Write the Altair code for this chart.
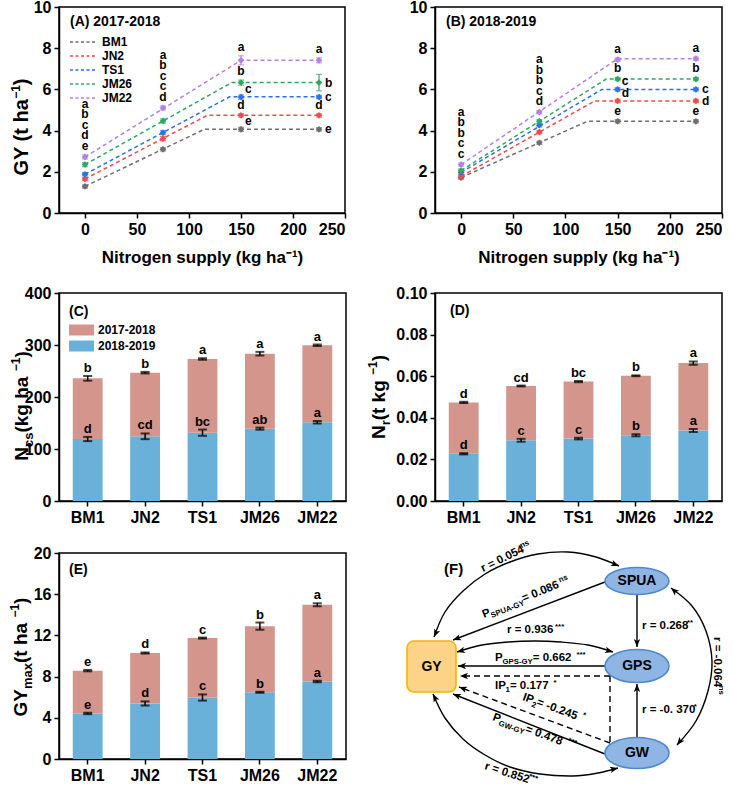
import altair as alt
import numpy as np
import pandas as pd

FONT = "Liberation Sans"

# ------------------------------------------------------------------ data
series = ["BM1", "JN2", "TS1", "JM26", "JM22"]
series_colors = ["#6e6e6e", "#f24a4a", "#2a72e6", "#31a862", "#b47fe6"]
n_rates = [0, 75, 150, 225]

# (A) 2017-2018 grain yield, rows = cultivars, cols = N rates
a_gy = [
    [1.29, 3.09, 4.06, 4.06],
    [1.65, 3.61, 4.74, 4.74],
    [1.88, 3.90, 5.63, 5.63],
    [2.35, 4.47, 6.33, 6.33],
    [2.72, 5.10, 7.41, 7.41],
]
a_se = [
    [0.08, 0.08, 0.10, 0.08],
    [0.08, 0.10, 0.08, 0.08],
    [0.08, 0.10, 0.10, 0.08],
    [0.10, 0.10, 0.12, 0.40],
    [0.10, 0.10, 0.22, 0.12],
]
a_fit_int = [1.29, 1.65, 1.88, 2.35, 2.72]
a_fit_bp = [115, 118, 139, 141, 150]
a_fit_plat = [4.07, 4.75, 5.64, 6.33, 7.41]
a_stack0 = ["a", "b", "c", "d", "e"]
a_stack75 = ["a", "b", "c", "c", "d"]
a_let150 = ["e", "d", "c", "b", "a"]
a_pos150 = ["upright", "above", "upright", "above", "above"]
a_let225 = ["e", "d", "c", "b", "a"]
a_pos225 = ["right", "above", "right", "right", "above"]

# (B) 2018-2019
b_gy = [
    [1.72, 3.41, 4.45, 4.45],
    [1.78, 3.93, 5.44, 5.44],
    [1.97, 4.26, 6.00, 6.00],
    [2.06, 4.45, 6.50, 6.50],
    [2.35, 4.90, 7.45, 7.49],
]
b_se = [
    [0.08, 0.08, 0.08, 0.08],
    [0.08, 0.08, 0.08, 0.08],
    [0.08, 0.08, 0.08, 0.08],
    [0.08, 0.08, 0.08, 0.08],
    [0.08, 0.08, 0.08, 0.08],
]
b_fit_int = [1.72, 1.78, 1.97, 2.06, 2.35]
b_fit_bp = [121, 128, 135, 139, 150]
b_fit_plat = [4.45, 5.44, 6.00, 6.50, 7.49]
b_stack0 = ["a", "b", "b", "c", "c"]
b_stack75 = ["a", "b", "b", "c", "d"]
b_let150 = ["e", "d", "c", "b", "a"]
b_pos150 = ["above", "upright", "upright", "above", "above"]
b_let225 = ["e", "d", "c", "b", "a"]
b_pos225 = ["above", "right", "right", "above", "above"]

years = ["2017-2018", "2018-2019"]
year_colors = ["#d4958c", "#69b1d8"]

# (C) Ncs
c_blue = [119.2, 124.4, 131.4, 139.1, 151.3]
c_pink = [116.7, 122.4, 141.7, 144.2, 148.1]
c_blue_se = [4.0, 5.5, 6.0, 2.0, 2.5]
c_pink_se = [4.5, 1.5, 1.5, 3.5, 1.5]
c_blue_let = ["d", "cd", "bc", "ab", "a"]
c_pink_let = ["b", "b", "a", "a", "a"]

# (D) Nr
d_blue = [0.0227, 0.0292, 0.0300, 0.0316, 0.0339]
d_pink = [0.0247, 0.0261, 0.0274, 0.0286, 0.0324]
d_blue_se = [0.0003, 0.0007, 0.0004, 0.0005, 0.0007]
d_pink_se = [0.0003, 0.0002, 0.0003, 0.0002, 0.0008]
d_blue_let = ["d", "c", "c", "b", "a"]
d_pink_let = ["d", "cd", "bc", "b", "a"]

# (E) GYmax
e_blue = [4.42, 5.39, 5.97, 6.48, 7.52]
e_pink = [4.16, 4.90, 5.77, 6.42, 7.45]
e_blue_se = [0.07, 0.20, 0.30, 0.05, 0.08]
e_pink_se = [0.07, 0.05, 0.05, 0.35, 0.15]
e_blue_let = ["e", "d", "c", "b", "a"]
e_pink_let = ["e", "d", "c", "b", "a"]

# (F) path diagram (diagram coordinates)
f_nodes = ["SPUA", "GPS", "GW"]
f_node_x = [639, 639, 639]
f_node_y = [580, 665, 752]
f_node_w = [64, 64, 64]
f_node_h = [27, 33, 31]
f_box = [409, 640, 458, 691]
f_solid = [
    [607, 581, 455, 639],
    [639, 594, 639, 646],
    [607, 665, 460, 665],
    [639, 736, 639, 683],
    [607, 753, 455, 693],
]
f_dashed = [
    [612, 675, 462, 675, 1],
    [612, 675, 612, 742, 0],
    [612, 742, 461, 686, 1],
]
f_curves = [
    [(436, 636), (447, 611), (465, 590), (487, 573), (512, 561), (540, 553), (570, 551), (598, 556), (621, 565)],
    [(459, 651), (484, 644), (510, 641), (537, 640), (563, 641), (590, 644), (615, 651)],
    [(673, 587), (694, 605), (708, 630), (714, 660), (710, 690), (698, 720), (679, 744)],
    [(435, 693), (447, 717), (465, 738), (487, 754), (512, 766), (542, 773), (575, 775), (600, 772), (620, 767)],
]
f_labels = [
    (485, 571, -26, [("r = 0.054", "n"), ("ns", "sup")]),
    (486, 617, -22, [("P", "n"), ("SPUA-GY", "sub"), (" = 0.086", "n"), ("ns", "sup")]),
    (644, 628, 0, [("r = 0.268", "n"), ("**", "sup")]),
    (509, 632, 0, [("r =  0.936", "n"), ("***", "sup")]),
    (497, 660, 0, [("P", "n"), ("GPS-GY", "sub"), (" =  0.662", "n"), ("***", "sup")]),
    (497, 688, 0, [("IP", "n"), ("1", "sub"), (" =  0.177", "n"), ("*", "sup")]),
    (524, 699, 20, [("IP", "n"), ("2", "sub"), (" =  -0.245", "n"), ("*", "sup")]),
    (494, 719, 20, [("P", "n"), ("GW-GY", "sub"), (" =  0.478", "n"), ("***", "sup")]),
    (644, 712, 0, [("r = -0. 370", "n"), ("*", "sup")]),
    (716, 636, 90, [("r = -0.064", "n"), ("ns", "sup")]),
    (486, 768, 18, [("r = 0.852", "n"), ("***", "sup")]),
    (446, 573, 0, [("(F)", "big")]),
]

# ------------------------------------------------------------------ helpers
ONE = pd.DataFrame({"k": [0]})
CW = {" ": .278, "=": .584, ".": .278, "-": .333, "\u2212": .584, "*": .389, "(": .333, ")": .333,
      "r": .389, "n": .611, "s": .556, "P": .667, "I": .278, "S": .667, "U": .722, "A": .722,
      "G": .778, "Y": .667, "W": .944, "F": .611, "m": .889, "a": .556, "x": .556, "c": .556,
      "k": .556, "g": .611, "h": .611, "t": .333, "N": .722}


def tw(s):
    return sum(CW.get(ch, 0.556) for ch in s)


def text_at(txt, x, y, size, **kw):
    return alt.Chart(ONE).mark_text(text=txt, fontSize=size, fontWeight="bold", color="black",
                                    align="left", baseline="alphabetic", **kw).encode(
        x=alt.value(x), y=alt.value(y))


def vtitle(segs, x, cy):
    total = sum(tw(t) * fs for t, fs, _ in segs)
    start = cy + total / 2
    out, cur = [], 0.0
    for t, fs, dy in segs:
        out.append(alt.Chart(ONE).mark_text(text=t, angle=270, align="left", baseline="alphabetic",
                                            fontSize=fs, fontWeight="bold", color="black",
                                            dx=cur, dy=dy).encode(x=alt.value(x), y=alt.value(start)))
        cur += tw(t) * fs
    return out


def gy_panel(gy, se, f_int, f_bp, f_plat, stack0, stack75, let150, pos150, let225, pos225,
             tag, width, legend, title_layers):
    rows = []
    for i, s in enumerate(series):
        for j, n in enumerate(n_rates):
            rows.append({"series": s, "n": n, "gy": gy[i][j],
                         "lo": gy[i][j] - se[i][j], "hi": gy[i][j] + se[i][j]})
    pts = pd.DataFrame(rows)
    caps = pd.concat([pts.assign(gy=pts["lo"]), pts.assign(gy=pts["hi"])])
    fit = pd.DataFrame([{"series": s, "n": n, "gy": v}
                        for i, s in enumerate(series)
                        for n, v in [(0, f_int[i]), (f_bp[i], f_plat[i]), (225, f_plat[i])]])
    top = pts[pts.series == "JM22"].reset_index(drop=True)
    srows = []
    for col_n, stk, base in [(0, stack0, top.hi[0]), (75, stack75, top.hi[1])]:
        for k, letter in enumerate(reversed(stk)):
            srows.append({"n": col_n, "gy": base, "t": letter, "k": k})
    stacks = pd.DataFrame(srows)
    lrows = []
    for j, lets, poss in [(2, let150, pos150), (3, let225, pos225)]:
        for i, s in enumerate(series):
            v = gy[i][j]
            lrows.append({"n": n_rates[j], "gy": v + se[i][j] if poss[i] == "above" else v,
                          "t": lets[i], "pos": poss[i]})
    singles = pd.DataFrame(lrows)

    x = alt.X("n:Q", scale=alt.Scale(domain=[-25, 250], nice=False, zero=False),
              axis=alt.Axis(values=[0, 50, 100, 150, 200, 250], title="Nitrogen supply (kg ha\u207b\u00b9)",
                            titlePadding=12, labelPadding=3))
    y = alt.Y("gy:Q", scale=alt.Scale(domain=[0, 10], nice=False),
              axis=alt.Axis(values=[0, 2, 4, 6, 8, 10], title=None, labelPadding=3))
    csc = alt.Scale(domain=series, range=series_colors)
    line = alt.Chart(fit).mark_line(strokeDash=[4, 3], strokeWidth=1.5).encode(
        x=x, y=y, color=alt.Color("series:N", scale=csc, legend=legend))
    nolg = alt.Color("series:N", scale=csc, legend=None)
    rules = alt.Chart(pts).mark_rule(strokeWidth=1.2).encode(x=x, y=alt.Y("lo:Q"), y2="hi:Q", color=nolg)
    capm = alt.Chart(caps).mark_tick(orient="horizontal", size=6, thickness=1.2).encode(x=x, y=y, color=nolg)
    points = alt.Chart(pts).mark_point(shape="diamond", filled=True, size=45, opacity=1).encode(
        x=x, y=y, color=nolg)
    txt = dict(fontSize=12, fontWeight="bold", color="black")
    layers = [line, rules, capm, points]
    for k in range(5):
        layers.append(alt.Chart(stacks).transform_filter(alt.datum.k == k).mark_text(
            align="center", baseline="alphabetic", dy=-5 - 10.5 * k, **txt).encode(x=x, y=y, text="t:N"))
    layers.append(alt.Chart(singles).transform_filter(alt.datum.pos == "above").mark_text(
        align="center", baseline="alphabetic", dy=-5, **txt).encode(x=x, y=y, text="t:N"))
    layers.append(alt.Chart(singles).transform_filter(alt.datum.pos == "right").mark_text(
        align="left", baseline="middle", dx=6, **txt).encode(x=x, y=y, text="t:N"))
    layers.append(alt.Chart(singles).transform_filter(alt.datum.pos == "upright").mark_text(
        align="left", baseline="alphabetic", dx=4, dy=-4, **txt).encode(x=x, y=y, text="t:N"))
    layers.append(text_at(tag, 11, 19, 14))
    layers += title_layers
    return alt.layer(*layers).properties(width=width, height=206)


def bar_panel(blue, pink, blue_se, pink_se, blue_let, pink_let, ymax, ticks, fmt, tag, tag_x, tag_y,
              legend, title_layers, height):
    df = pd.DataFrame({"cat": series * 2, "year": [years[1]] * 5 + [years[0]] * 5,
                       "value": blue + pink, "ord": [0] * 5 + [1] * 5})
    tops = [b + p for b, p in zip(blue, pink)]
    err = pd.DataFrame({"cat": series * 2, "yv": blue + tops, "se": blue_se + pink_se,
                        "let": blue_let + pink_let})
    err["lo"] = err.yv - err.se
    err["hi"] = err.yv + err.se
    caps = pd.concat([err.assign(yv=err.lo), err.assign(yv=err.hi)])
    xs = alt.X("cat:N", sort=series, scale=alt.Scale(paddingInner=0.48, paddingOuter=0.24),
               axis=alt.Axis(title=None, labelAngle=0, labelPadding=3))
    ysc = alt.Scale(domain=[0, ymax], nice=False)
    yax = alt.Axis(values=ticks, format=fmt, title=None, labelPadding=3)
    bars = alt.Chart(df).mark_bar().encode(
        x=xs, y=alt.Y("value:Q", stack="zero", scale=ysc, axis=yax),
        color=alt.Color("year:N", scale=alt.Scale(domain=years, range=year_colors), legend=legend),
        order=alt.Order("ord:Q"))
    rules = alt.Chart(err).mark_rule(color="black", strokeWidth=1.5).encode(
        x=xs, y=alt.Y("lo:Q", scale=ysc, axis=yax), y2="hi:Q")
    capm = alt.Chart(caps).mark_tick(color="black", orient="horizontal", size=9, thickness=2).encode(
        x=xs, y=alt.Y("yv:Q", scale=ysc, axis=yax))
    lets = alt.Chart(err).mark_text(fontSize=13, fontWeight="bold", color="black", dy=-4,
                                    baseline="alphabetic").encode(
        x=xs, y=alt.Y("hi:Q", scale=ysc, axis=yax), text="let:N")
    layers = [bars, rules, capm, lets, text_at(tag, tag_x, tag_y, 14)] + title_layers
    return alt.layer(*layers).properties(width=287, height=height)


def f_panel():
    ARROW = "M0,0L-0.8,2L0,1.5L0.8,2Z"
    fxs = alt.Scale(domain=[400, 734], nice=False, zero=False)
    fys = alt.Scale(domain=[552, 758], reverse=True, nice=False, zero=False)
    fx = alt.X("x:Q", scale=fxs, axis=None)
    fy = alt.Y("y:Q", scale=fys, axis=None)
    nodes = pd.DataFrame({"name": f_nodes, "x": f_node_x, "y": f_node_y,
                          "sz": [w * w for w in f_node_w],
                          "path": ["M-1,0A1,{r:.3f},0,0,1,1,0A1,{r:.3f},0,0,1,-1,0Z".format(r=h / w)
                                   for w, h in zip(f_node_w, f_node_h)]})
    box = pd.DataFrame({"x": [f_box[0]], "y": [f_box[1]], "x2": [f_box[2]], "y2": [f_box[3]],
                        "cx": [(f_box[0] + f_box[2]) / 2], "cy": [(f_box[1] + f_box[3]) / 2]})
    solid = pd.DataFrame(f_solid, columns=["x", "y", "x2", "y2"])
    dashed = pd.DataFrame(f_dashed, columns=["x", "y", "x2", "y2", "arr"])
    crow = []
    for cid, pts in enumerate(f_curves):
        for i, (px, py) in enumerate(pts):
            crow.append({"id": cid, "i": i, "x": px, "y": py})
    curves = pd.DataFrame(crow)

    def ang(tip, prev):
        dx, dy = tip[0] - prev[0], tip[1] - prev[1]
        return float(np.degrees(np.arctan2(dx, -dy)) % 360)

    arows = []
    for x0, y0, x1, y1 in f_solid:
        arows.append({"x": x1, "y": y1, "a": ang((x1, y1), (x0, y0))})
    for x0, y0, x1, y1, a in f_dashed:
        if a:
            arows.append({"x": x1, "y": y1, "a": ang((x1, y1), (x0, y0))})
    for pts in f_curves:
        arows.append({"x": pts[0][0], "y": pts[0][1], "a": ang(pts[0], pts[1])})
        arows.append({"x": pts[-1][0], "y": pts[-1][1], "a": ang(pts[-1], pts[-2])})
    arrows = pd.DataFrame(arows)

    trows = []
    base = 11.5
    for x0, y0, a, segs in f_labels:
        r = np.radians(a)
        cur = 0.0
        for t, kind in segs:
            fs = {"n": base, "sub": 7.8, "sup": 7.8, "big": 15}[kind]
            dy = {"n": 0, "sub": 3.0, "sup": -4.5, "big": 0}[kind]
            trows.append({"x": x0 + cur * np.cos(r) - dy * np.sin(r),
                          "y": y0 + cur * np.sin(r) + dy * np.cos(r),
                          "ang": a % 360, "t": t, "fs": fs})
            cur += tw(t) * fs * (0.97 if kind == "n" else 1.0)
    texts = pd.DataFrame(trows)

    l_box = alt.Chart(box).mark_rect(cornerRadius=7, fill="#fdd487", stroke="#f5b400", strokeWidth=1.6).encode(
        x=fx, y=fy, x2="x2:Q", y2="y2:Q")
    l_boxt = alt.Chart(box).mark_text(text="GY", fontSize=14, fontWeight="bold", color="black").encode(
        x=alt.X("cx:Q", scale=fxs, axis=None), y=alt.Y("cy:Q", scale=fys, axis=None))
    l_solid = alt.Chart(solid).mark_rule(color="black", strokeWidth=1.4).encode(x=fx, y=fy, x2="x2:Q", y2="y2:Q")
    l_dash = alt.Chart(dashed).mark_rule(color="black", strokeWidth=1.4, strokeDash=[6, 4]).encode(
        x=fx, y=fy, x2="x2:Q", y2="y2:Q")
    l_curve = alt.Chart(curves).mark_line(color="black", strokeWidth=1.4, interpolate="cardinal").encode(
        x=fx, y=fy, detail="id:N", order="i:Q")
    l_arrow = alt.Chart(arrows).mark_point(shape=ARROW, filled=True, size=64, color="black", opacity=1).encode(
        x=fx, y=fy, angle=alt.Angle("a:Q", scale=None))
    l_nodes = alt.Chart(nodes).mark_point(filled=True, fill="#8fb5e5", stroke="#4f89cc", strokeWidth=1.6,
                                          opacity=1, fillOpacity=1).encode(
        x=fx, y=fy, shape=alt.Shape("path:N", scale=None), size=alt.Size("sz:Q", scale=None))
    l_nodet = alt.Chart(nodes).mark_text(fontSize=14, fontWeight="bold", color="black").encode(
        x=fx, y=fy, text="name:N")
    l_text = alt.Chart(texts).mark_text(align="left", baseline="alphabetic", fontWeight="bold", color="black").encode(
        x=fx, y=fy, text="t:N", size=alt.Size("fs:Q", scale=None), angle=alt.Angle("ang:Q", scale=None))
    return alt.layer(l_solid, l_dash, l_curve, l_arrow, l_box, l_boxt, l_nodes, l_nodet, l_text).properties(
        width=334, height=206, view=alt.ViewBackground(stroke="transparent"))


# ------------------------------------------------------------------ panels
SUP = 12
line_legend = alt.Legend(title=None, orient="none", legendX=10, legendY=28, symbolType="stroke",
                         symbolSize=729, symbolStrokeWidth=1.6, symbolDash=[3, 2.5], clipHeight=14,
                         rowPadding=0, labelFont=FONT, labelFontSize=12, labelFontWeight="bold",
                         labelColor="black", labelOffset=4, padding=0)
bar_legend = alt.Legend(title=None, orient="none", legendX=10, legendY=29,
                        symbolType="M-1,-0.44H1V0.44H-1Z", symbolSize=625, symbolStrokeWidth=0,
                        clipHeight=16, rowPadding=0, labelFont=FONT, labelFontSize=12,
                        labelFontWeight="bold", labelColor="black", labelOffset=4, padding=0,
                        symbolOpacity=1)

chart_a = gy_panel(a_gy, a_se, a_fit_int, a_fit_bp, a_fit_plat, a_stack0, a_stack75, a_let150, a_pos150,
                   a_let225, a_pos225, "(A)  2017-2018", 286, line_legend,
                   vtitle([("GY (t ha", 20, 0), ("\u22121", SUP, -8), (")", 20, 0)], -31, 120))
chart_b = gy_panel(b_gy, b_se, b_fit_int, b_fit_bp, b_fit_plat, b_stack0, b_stack75, b_let150, b_pos150,
                   b_let225, b_pos225, "(B)  2018-2019", 287, None, [])
chart_c = bar_panel(c_blue, c_pink, c_blue_se, c_pink_se, c_blue_let, c_pink_let, 400,
                    [0, 100, 200, 300, 400], "d", "(C)", 10, 23, bar_legend,
                    vtitle([("N", 19, 0), ("cs", 13, 5), (" (kg ha", 19, 0), ("\u22121", SUP, -8), (")", 19, 0)],
                           -31, 113), 208)
chart_d = bar_panel(d_blue, d_pink, d_blue_se, d_pink_se, d_blue_let, d_pink_let, 0.10,
                    [0, 0.02, 0.04, 0.06, 0.08, 0.10], ".2f", "(D)", 15, 22, None,
                    vtitle([("N", 19, 0), ("r", 13, 5), (" (t kg", 19, 0), ("\u22121", SUP, -8), (")", 19, 0)],
                           -50, 104), 208)
chart_e = bar_panel(e_blue, e_pink, e_blue_se, e_pink_se, e_blue_let, e_pink_let, 20,
                    [0, 4, 8, 12, 16, 20], "d", "(E)", 10, 21, None,
                    vtitle([("GY", 19, 0), ("max", 13, 5), (" (t ha", 19, 0), ("\u22121", SUP, -8), (")", 19, 0)],
                           -32, 104), 206)
chart_f = f_panel()


def indep(c):
    return c.resolve_scale(color="independent").resolve_legend(color="independent")


row1 = indep(alt.hconcat(chart_a, chart_b, spacing=61))
row2 = indep(alt.hconcat(chart_c, chart_d, spacing=19))
row3 = indep(alt.hconcat(chart_e, chart_f, spacing=50))
top = indep(alt.vconcat(row1, row2, spacing=18))
chart = indep(alt.vconcat(top, row3, spacing=12))

chart = chart.properties(
    padding={"left": 8, "top": -2, "right": 0, "bottom": 0}
).configure(font=FONT).configure_view(
    stroke="black", strokeWidth=1.5
).configure_axis(
    labelFont=FONT, labelFontSize=16, labelFontWeight="bold", labelColor="black",
    titleFont=FONT, titleFontSize=17, titleFontWeight="bold", titleColor="black",
    domainColor="black", domainWidth=1.5, tickColor="black", tickWidth=1.5, tickSize=5, grid=False
)

chart.save("out.html", embed_options={"renderer": "svg", "actions": False})
